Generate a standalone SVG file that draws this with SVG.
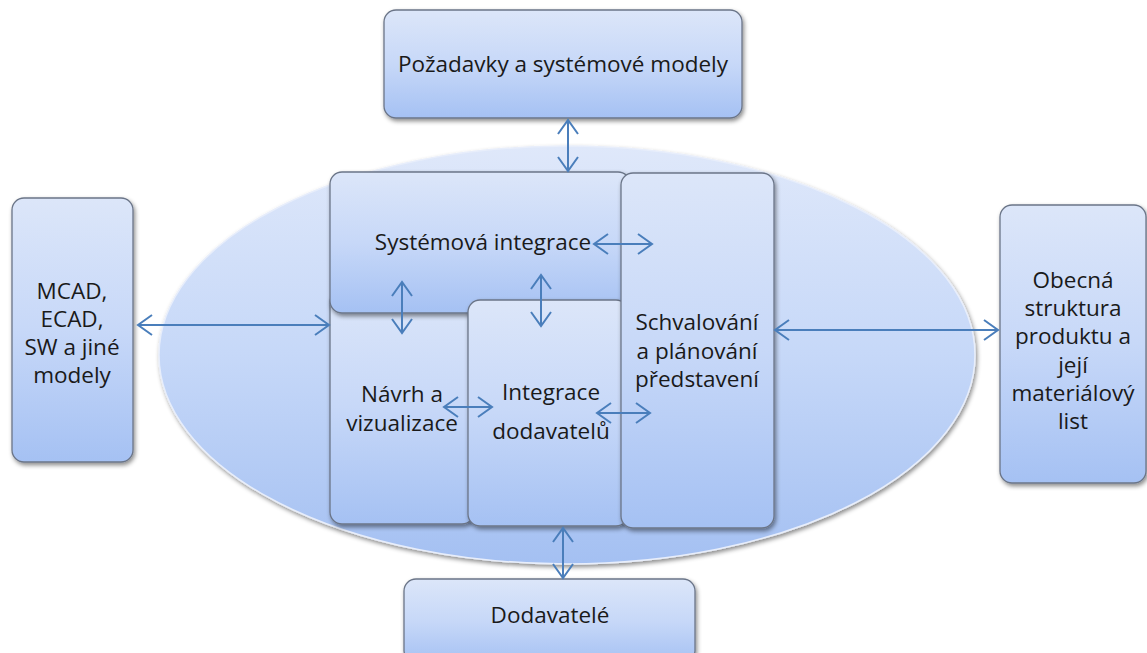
<svg xmlns="http://www.w3.org/2000/svg" width="1147" height="653" viewBox="0 0 1147 653">
  <defs>
    <linearGradient id="boxFill" x1="0" y1="0" x2="0" y2="1">
      <stop offset="0" stop-color="#dce6f9"/>
      <stop offset="0.5" stop-color="#c7d8f8"/>
      <stop offset="1" stop-color="#a5c1f3"/>
    </linearGradient>
    <linearGradient id="ellFill" x1="0" y1="0" x2="0" y2="1">
      <stop offset="0" stop-color="#dfe8fa"/>
      <stop offset="0.5" stop-color="#c6d8f8"/>
      <stop offset="1" stop-color="#a4c0f2"/>
    </linearGradient>
    <filter id="shadow" x="-10%" y="-10%" width="130%" height="130%">
      <feDropShadow dx="1.5" dy="2.5" stdDeviation="2" flood-color="#000" flood-opacity="0.45"/>
    </filter>
    <marker id="arrow" markerUnits="userSpaceOnUse" markerWidth="18" markerHeight="24" viewBox="-2 -2 18 24" refX="14" refY="10" orient="auto-start-reverse">
      <path d="M0,0 L14,10 L0,20" fill="none" stroke="#4a7ebb" stroke-width="2"/>
    </marker>
  </defs>
  <style>
    .box { fill: url(#boxFill); stroke: #6b7588; stroke-width: 1.3; filter: url(#shadow); }
    .ell { fill: url(#ellFill); stroke: #e8eefb; stroke-width: 1.5; filter: url(#shadow); }
    .lbl { font-family: "Open Sans", "Noto Sans", "Liberation Sans", sans-serif; font-size: 22.5px; fill: #1a1a1a; text-anchor: middle; }
    .con { stroke: #4a7ebb; stroke-width: 2; fill: none; marker-start: url(#arrow); marker-end: url(#arrow); }
  </style>

  <rect width="1147" height="653" fill="#ffffff"/>

  <!-- central ellipse -->
  <g id="core">
    <ellipse class="ell" cx="567" cy="355" rx="408" ry="209"/>
  </g>

  <g id="pozadavky">
    <rect class="box" x="384" y="10" width="358" height="108" rx="12"/>
    <text class="lbl" x="563" y="72">Požadavky a systémové modely</text>
  </g>

  <g id="mcad">
    <rect class="box" x="12" y="198" width="121" height="264" rx="12"/>
    <text class="lbl" x="72" y="299">MCAD,</text>
    <text class="lbl" x="72" y="327">ECAD,</text>
    <text class="lbl" x="72" y="355">SW a jiné</text>
    <text class="lbl" x="72" y="383">modely</text>
  </g>

  <g id="obecna">
    <rect class="box" x="1000" y="205" width="146" height="278" rx="12"/>
    <text class="lbl" x="1073" y="288">Obecná</text>
    <text class="lbl" x="1073" y="316">struktura</text>
    <text class="lbl" x="1073" y="344">produktu a</text>
    <text class="lbl" x="1073" y="373">její</text>
    <text class="lbl" x="1073" y="401">materiálový</text>
    <text class="lbl" x="1073" y="429">list</text>
  </g>

  <g id="dodavatele">
    <rect class="box" x="404" y="579" width="291" height="84" rx="12"/>
    <text class="lbl" x="550" y="623">Dodavatelé</text>
  </g>

  <g id="navrh">
    <rect class="box" x="330" y="290" width="144" height="234" rx="12"/>
    <text class="lbl" x="402" y="402">Návrh a</text>
    <text class="lbl" x="402" y="431">vizualizace</text>
  </g>

  <g id="systemova">
    <rect class="box" x="330" y="172" width="300" height="141" rx="12"/>
    <text class="lbl" x="483" y="250">Systémová integrace</text>
  </g>

  <g id="integrace">
    <rect class="box" x="468" y="300" width="160" height="226" rx="12"/>
    <text class="lbl" x="551" y="400">Integrace</text>
    <text class="lbl" x="551" y="439">dodavatelů</text>
  </g>

  <g id="schvalovani">
    <rect class="box" x="621" y="173" width="153" height="355" rx="12"/>
    <text class="lbl" x="697" y="330">Schvalování</text>
    <text class="lbl" x="697" y="358.5">a plánování</text>
    <text class="lbl" x="697" y="387">představení</text>
  </g>

  <g id="connectors">
    <line class="con" x1="568" y1="120" x2="568" y2="171"/>
    <line class="con" x1="138" y1="325" x2="329" y2="325"/>
    <line class="con" x1="594" y1="244" x2="652" y2="244"/>
    <line class="con" x1="402" y1="282" x2="402" y2="333"/>
    <line class="con" x1="541" y1="275" x2="541" y2="326"/>
    <line class="con" x1="444" y1="407" x2="492" y2="407"/>
    <line class="con" x1="597" y1="413" x2="650" y2="413"/>
    <line class="con" x1="775" y1="330" x2="998" y2="330"/>
    <line class="con" x1="563" y1="528" x2="563" y2="578"/>
  </g>
</svg>
